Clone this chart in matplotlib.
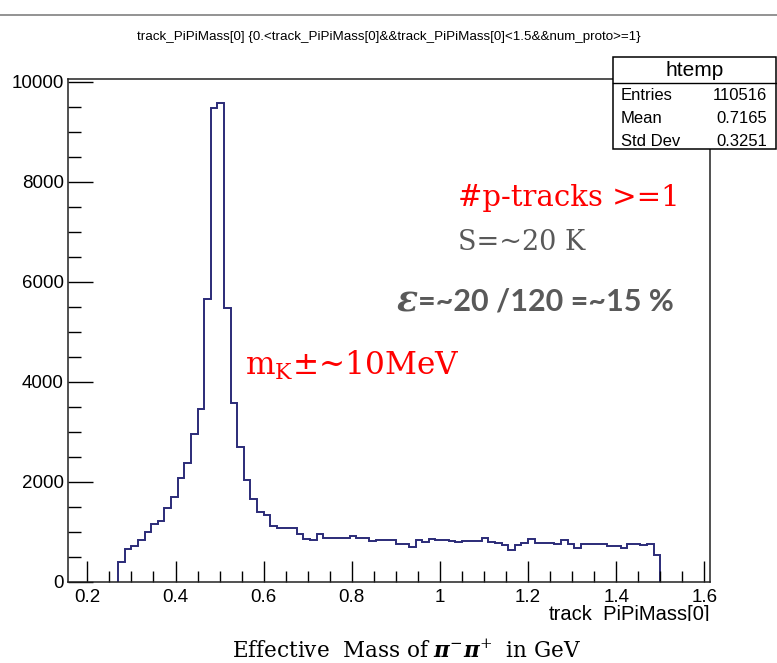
import numpy as np
import matplotlib
matplotlib.use("Agg")
import matplotlib.pyplot as plt
from matplotlib.patches import Rectangle
from matplotlib.ticker import MultipleLocator, FuncFormatter

# pi pi invariant mass histogram, 0.015 GeV bins from 0.27 to 1.5
bin_start = 0.27
bin_width = 0.015
counts = [400, 660, 725, 838, 1004, 1158, 1224, 1471, 1710, 2076, 2389, 2954, 3467,
          5660, 9480, 9580, 5490, 3590, 2700, 2040, 1670, 1410, 1340, 1120,
          1090, 1090, 1090, 960, 860, 845, 955, 880, 880, 880, 880,
          912, 880, 872, 830, 845, 845, 845, 760, 760, 692, 845, 805, 870, 845, 845,
          820, 805, 820, 820, 820, 880, 810, 790, 740, 640, 740, 780, 860, 790, 790,
          780, 760, 850, 760, 680, 760, 760, 760, 760, 720, 720, 680, 770, 770, 740, 770, 540]

# stats box
stat_names = ["Entries", "Mean", "Std Dev"]
stat_values = ["110516", "0.7165", "0.3251"]

title = "track_PiPiMass[0] {0.<track_PiPiMass[0]&&track_PiPiMass[0]<1.5&&num_proto>=1}"

W, H = 777, 663
plt.rcParams['mathtext.fontset'] = 'dejavuserif'


def fx(px):
    return px / W


def fy(py):
    return 1 - py / H


fig = plt.figure(figsize=(W / 100, H / 100), dpi=100)
fig.patch.set_facecolor('white')

# frame of the pad
ax = fig.add_axes([fx(68), fy(582), fx(710) - fx(68), fy(79) - fy(582)])
edges = bin_start + bin_width * np.arange(len(counts) + 1)
ax.stairs(counts, edges, color='#2b2b78', linewidth=1.4)

ax.set_xlim(0.156, 1.613)
ax.set_ylim(0, 10060)
ax.xaxis.set_major_locator(MultipleLocator(0.2))
ax.xaxis.set_minor_locator(MultipleLocator(0.05))
ax.yaxis.set_major_locator(MultipleLocator(2000))
ax.yaxis.set_minor_locator(MultipleLocator(500))
ax.xaxis.set_major_formatter(FuncFormatter(lambda v, p: '%g' % round(v, 3)))
ax.tick_params(which='both', direction='in', top=False, right=False,
               labelsize=13.5, colors='black')
ax.tick_params(axis='x', which='major', length=15, pad=5, width=1)
ax.tick_params(axis='x', which='minor', length=8, width=1)
ax.tick_params(axis='y', which='major', length=18, pad=3, width=1)
ax.tick_params(axis='y', which='minor', length=9, width=1)
for lab in ax.get_xticklabels() + ax.get_yticklabels():
    lab.set_family('Liberation Sans')
for s in ax.spines.values():
    s.set_linewidth(1.1)
    s.set_color('#222222')

# canvas border line and title
fig.add_artist(plt.Line2D([0, 1], [fy(15), fy(15)], color='#808080', linewidth=1.2))
fig.text(fx(389), fy(37), title, ha='center', va='center', fontsize=9.6,
         family='Liberation Sans')

# stats box
fig.add_artist(Rectangle((fx(613), fy(149)), fx(776) - fx(613), fy(57) - fy(149),
                         facecolor='white', edgecolor='black', linewidth=1.1, zorder=5))
fig.add_artist(plt.Line2D([fx(613), fx(776)], [fy(83), fy(83)], color='black',
                          linewidth=1.0, zorder=6))
fig.text(fx(695), fy(70), "htemp", ha='center', va='center', fontsize=15,
         family='Liberation Sans', zorder=7)
for i, (n, v) in enumerate(zip(stat_names, stat_values)):
    yy = fy(96 + 22.5 * i)
    fig.text(fx(621), yy, n, ha='left', va='center', fontsize=12,
             family='Liberation Sans', zorder=7)
    fig.text(fx(767), yy, v, ha='right', va='center', fontsize=12,
             family='Liberation Sans', zorder=7)

# annotations from the slide
fig.text(fx(458), fy(206), "#p-tracks >=1", color='red', fontsize=21,
         family='DejaVu Serif', va='baseline')
fig.text(fx(458), fy(250), "S=~20 K", color='#595959', fontsize=19.5,
         family='DejaVu Serif', va='baseline')
fig.text(fx(397), fy(311), "ε", color='#595959', fontsize=25, family='DejaVu Serif',
         fontweight='bold', fontstyle='italic', va='baseline')
fig.text(fx(418), fy(311), "=~20 /120 =~15 %", color='#595959', fontsize=22,
         family='Lato', fontweight='bold', va='baseline')
fig.text(fx(245), fy(375), r"m$_\mathrm{K}$±~10MeV", color='red', fontsize=22.5,
         family='DejaVu Serif', va='baseline')

# ROOT x-axis title, cut off by the slide caption area
fig.text(fx(710), fy(605), "track_PiPiMass[0]", ha='right', va='top', fontsize=14.5,
         family='Liberation Sans', zorder=1)
fig.add_artist(Rectangle((0, 0), 1, fy(621), facecolor='white', edgecolor='none',
                         zorder=8))
fig.text(fx(407), fy(658), r"Effective  Mass of $\mathbfit{\pi}^{-}\mathbfit{\pi}^{+}$  in GeV",
         ha='center', va='baseline', fontsize=15.5, family='DejaVu Serif', zorder=9)

fig.savefig("out.png", dpi=100)
